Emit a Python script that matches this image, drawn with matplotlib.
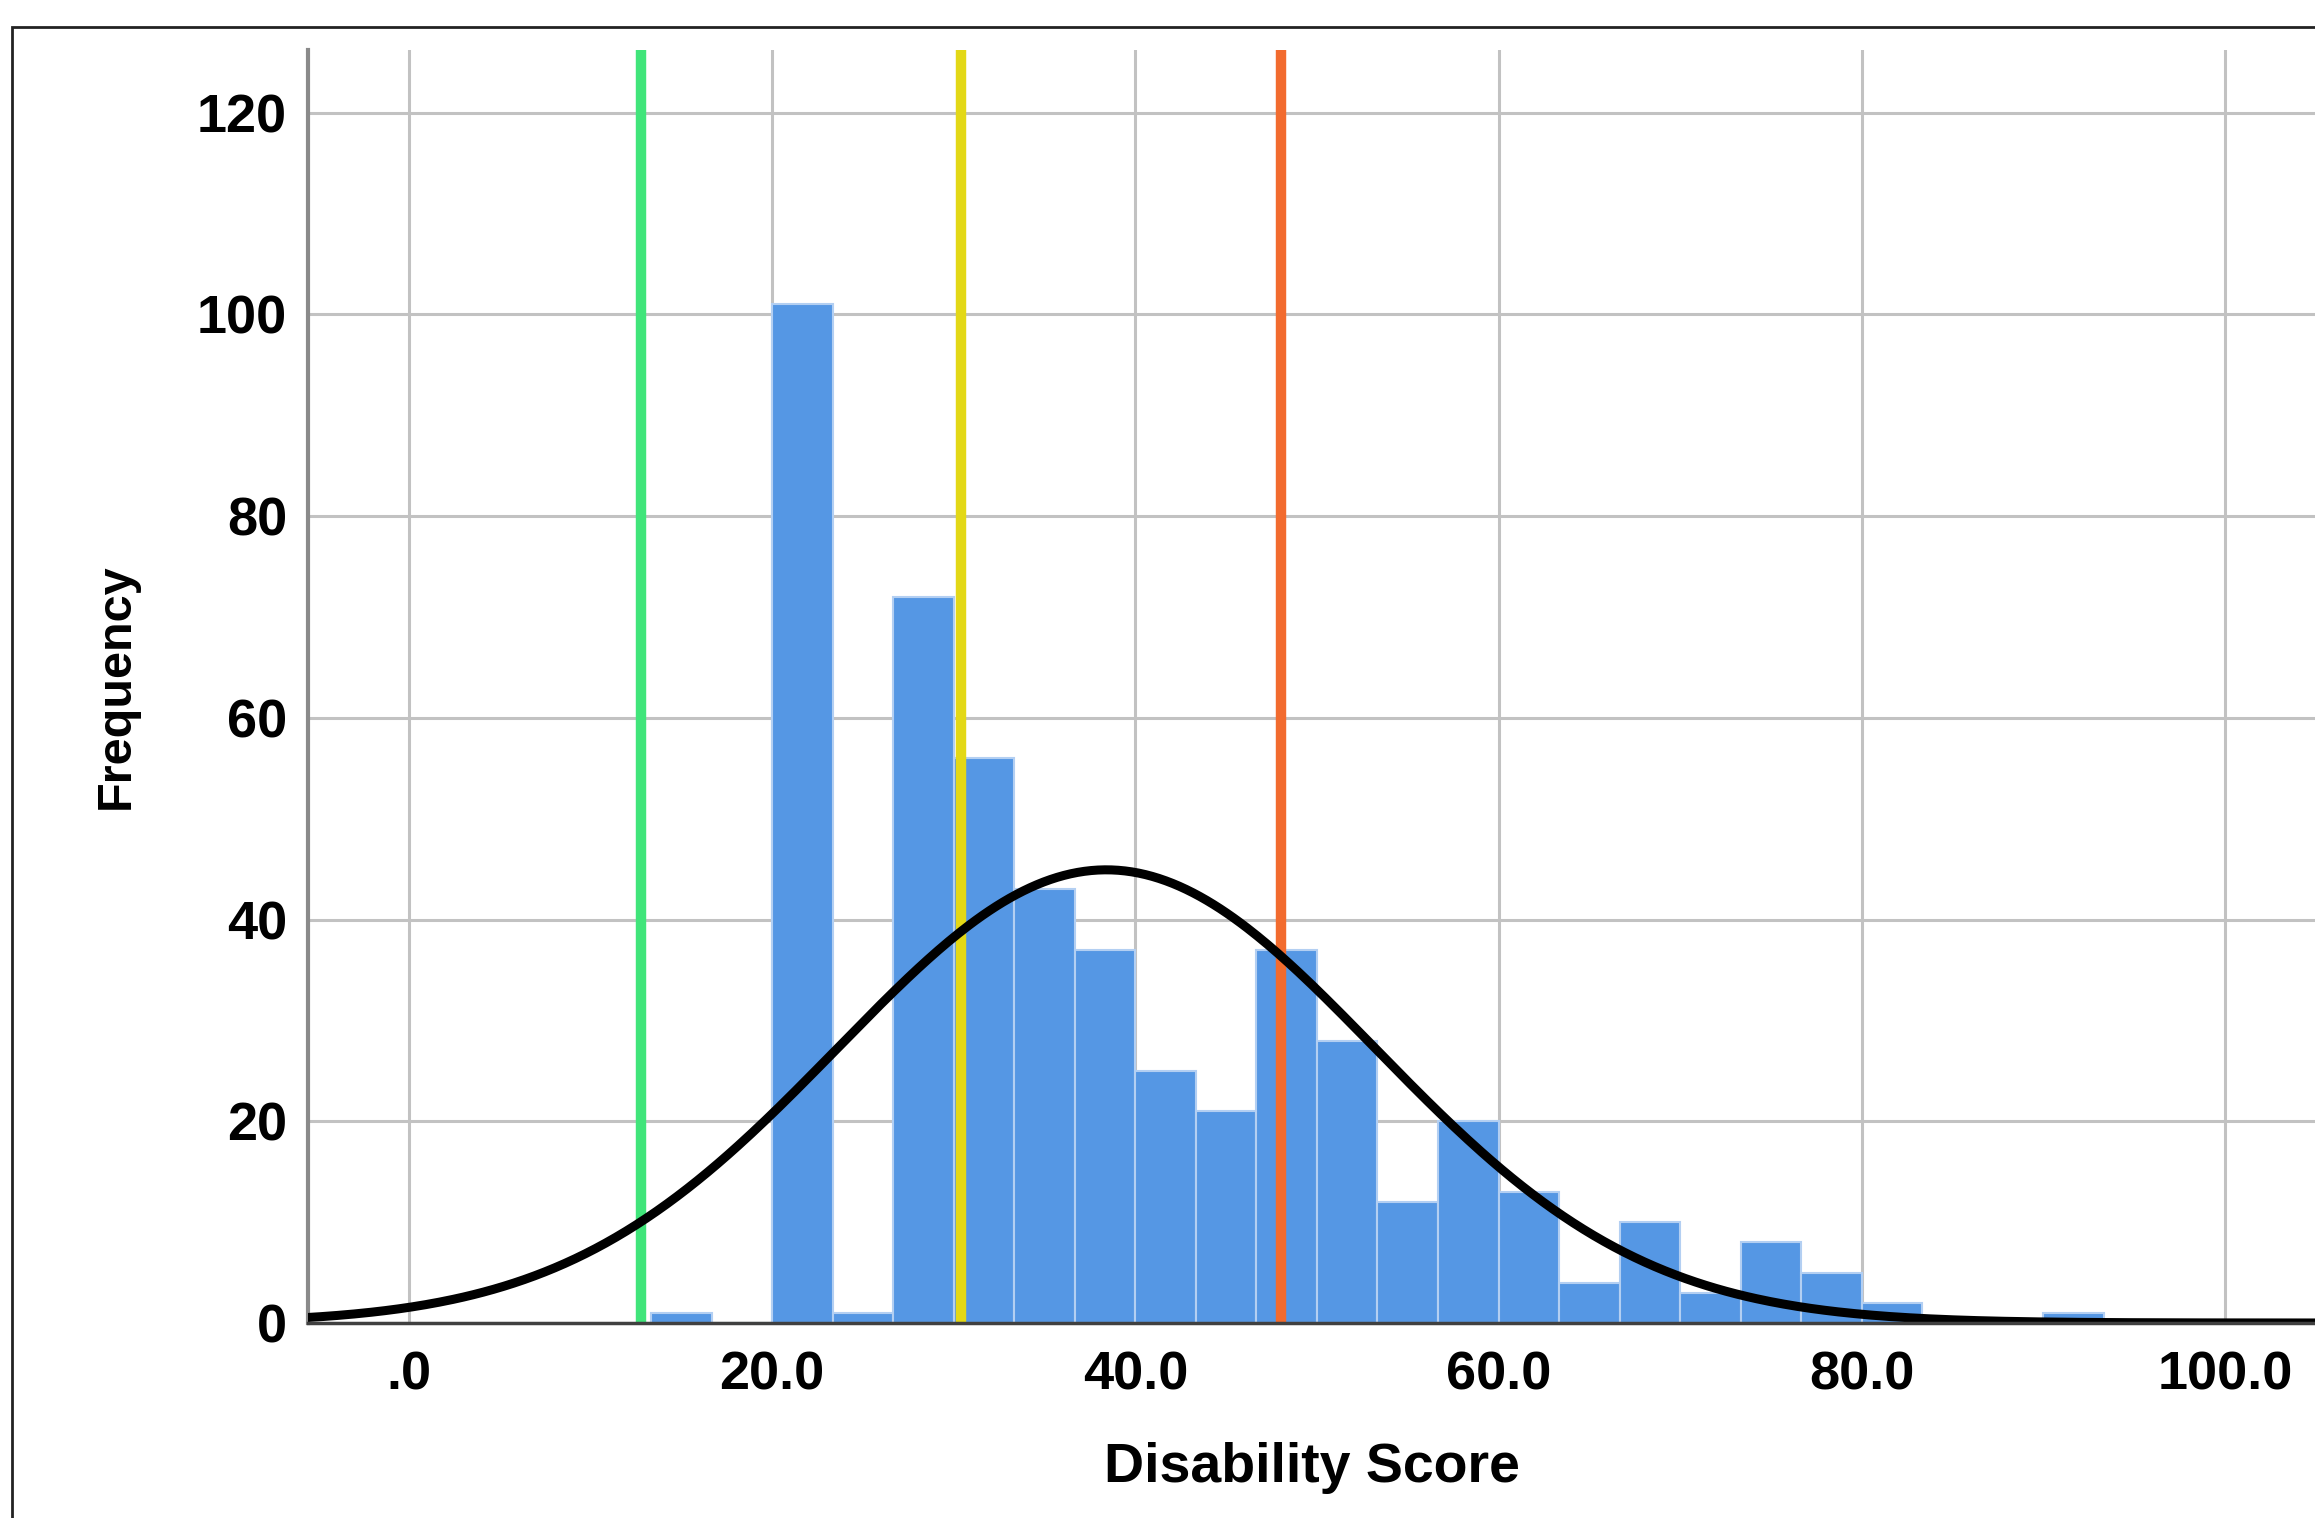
import numpy as np
import matplotlib.pyplot as plt
from matplotlib.patches import Rectangle

plt.rcParams['font.family'] = ['Liberation Sans', 'DejaVu Sans']

# --- data ---
bin_width = 10 / 3
bin_starts = np.array([13.33, 16.67, 20.0, 23.33, 26.67, 30.0, 33.33, 36.67, 40.0, 43.33,
                       46.67, 50.0, 53.33, 56.67, 60.0, 63.33, 66.67, 70.0, 73.33, 76.67,
                       80.0, 83.33, 86.67, 90.0])
counts = np.array([1, 0, 101, 1, 72, 56, 43, 37, 25, 21,
                   37, 28, 12, 20, 13, 4, 10, 3, 8, 5,
                   2, 0, 0, 1])

# normal curve fitted over the histogram
curve_mean = 38.4
curve_sd = 14.8
n_total = counts.sum()

# cut-off lines
cutoffs = [12.8, 30.4, 48.0]
cutoff_colors = ['#40e57a', '#e3d816', '#f26b2e']

x_ticks = [0, 20, 40, 60, 80, 100]
x_tick_labels = ['.0', '20.0', '40.0', '60.0', '80.0', '100.0']
y_ticks = [0, 20, 40, 60, 80, 100, 120]

# --- figure ---
W, H = 2315, 1518
fig = plt.figure(figsize=(W / 100, H / 100), dpi=100)
ax = fig.add_axes([308 / W, (H - 1323) / H, 1 - 308 / W, (1323 - 50) / H])

ax.bar(bin_starts, counts, width=bin_width, align='edge',
       color='#5597e4', edgecolor='#b3cff2', linewidth=1.5, zorder=3)

for xc, col in zip(cutoffs, cutoff_colors):
    ax.axvline(xc, color=col, linewidth=7.5, zorder=4)

xs = np.linspace(-6, 106, 600)
ys = n_total * bin_width * np.exp(-0.5 * ((xs - curve_mean) / curve_sd) ** 2) / (curve_sd * np.sqrt(2 * np.pi))
ax.plot(xs, ys, color='black', linewidth=6.5, zorder=5, solid_capstyle='butt')

ax.set_xlim(-5.56, 104.96)
ax.set_ylim(0, 126.2)
ax.set_xticks(x_ticks)
ax.set_xticklabels(x_tick_labels)
ax.set_yticks(y_ticks)

ax.grid(True, color='#c2c2c2', linewidth=2.2, zorder=0)
ax.set_axisbelow(True)
ax.tick_params(length=0, labelsize=39, pad=15)
ax.tick_params(axis='x', pad=20)
for lab in ax.get_xticklabels() + ax.get_yticklabels():
    lab.set_fontweight('bold')

for side in ['top', 'right']:
    ax.spines[side].set_visible(False)
ax.spines['left'].set_color('#8a8a8a')
ax.spines['left'].set_linewidth(3)
ax.spines['bottom'].set_color('#404040')
ax.spines['bottom'].set_linewidth(2.5)
ax.spines['bottom'].set_zorder(6)

ax.set_xlabel('Disability Score', fontsize=40, fontweight='bold', labelpad=30)
ax.set_ylabel('Frequency', fontsize=35, fontweight='bold', labelpad=42)

# outer frame (cropped on right and bottom)
fig.add_artist(Rectangle((12 / W, -0.05), 1.2, 1.05 - 27 / H, transform=fig.transFigure,
                         fill=False, edgecolor='#222222', linewidth=2, clip_on=False))

fig.savefig('out.png', dpi=100)
